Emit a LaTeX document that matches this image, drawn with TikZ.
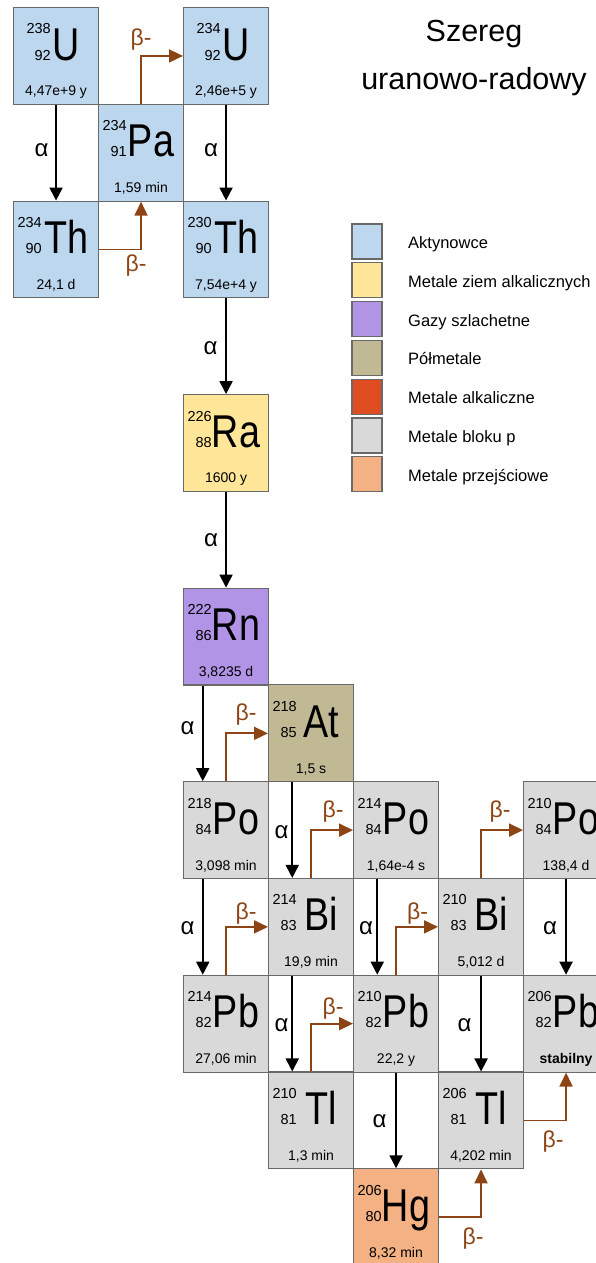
\documentclass[tikz,border=0pt]{standalone}
\usepackage{fontspec}
\setmainfont{Liberation Sans}
\newfontfamily\narrowfont[FakeStretch=0.82]{Liberation Sans}
\usetikzlibrary{arrows.meta,calc}
\definecolor{actin}{RGB}{189,215,238}
\definecolor{alkearth}{RGB}{255,230,153}
\definecolor{noble}{RGB}{178,148,230}
\definecolor{metalloid}{RGB}{192,185,147}
\definecolor{alkali}{RGB}{224,76,34}
\definecolor{pblock}{RGB}{217,217,217}
\definecolor{trans}{RGB}{244,177,131}
\definecolor{betac}{RGB}{140,68,20}
\definecolor{edgec}{RGB}{105,105,105}
\tikzset{
 cell/.style={draw=edgec, line width=1.1pt, minimum width=85pt, minimum height=96.8pt, inner sep=0pt, anchor=north west},
 symb/.style={inner sep=0pt, font=\narrowfont\fontsize{46}{46}\selectfont, anchor=base},
 nucnum/.style={inner sep=0pt, font=\fontsize{14.5}{14.5}\selectfont, anchor=base east},
 halfl/.style={inner sep=0pt, font=\fontsize{14}{14}\selectfont, anchor=base},
 alphaarr/.style={line width=1.8pt, -{Triangle[width=13pt,length=13pt]}},
 betaarr/.style={draw=betac, line width=1.8pt, -{Triangle[width=13pt,length=14pt]}},
 alphalab/.style={inner sep=0pt, font=\fontsize{24}{24}\selectfont},
 betalab/.style={inner sep=0pt, text=betac, font=\fontsize{23}{23}\selectfont},
 legbox/.style={draw=edgec, line width=1.1pt, minimum width=30pt, minimum height=35pt, inner sep=0pt},
 legtext/.style={inner sep=0pt, anchor=base west, font=\fontsize{16.5}{16.5}\selectfont},
 titletext/.style={inner sep=0pt, anchor=base, font=\fontsize{30.5}{30.5}\selectfont},
}
\newcommand\isotope[9]{%
 \node[cell, fill=#8] (#1) at ({13+85*#2},{7+96.77*#3}) {};
 \node[symb] (#1-sym) at ([xshift=10pt,yshift=-53pt]#1.north) {#6};
 \node[nucnum] (#1-A) at ([xshift=#9,yshift=-27pt]#1.north west) {#4};
 \node[nucnum] (#1-Z) at ([xshift=#9,yshift=-53pt]#1.north west) {#5};
 \node[halfl] (#1-T) at ([yshift=9pt]#1.south) {#7};
}
\begin{document}
\begin{tikzpicture}[x=1pt,y=-1pt]
\fill[white] (0,0) rectangle (595,1263);
\useasboundingbox (0,0) rectangle (595,1263);

% title
\node[titletext] (title1) at (474,41.5) {Szereg};
\node[titletext] (title2) at (474,89.3) {uranowo-radowy};

% cells
\isotope{U238}{0}{0}{238}{92}{U}{4,47e+9 y}{actin}{38pt}
\isotope{Pa234}{1}{1}{234}{91}{Pa}{1,59 min}{actin}{29pt}
\isotope{U234}{2}{0}{234}{92}{U}{2,46e+5 y}{actin}{38pt}
\isotope{Th234}{0}{2}{234}{90}{Th}{24,1 d}{actin}{29pt}
\isotope{Th230}{2}{2}{230}{90}{Th}{7,54e+4 y}{actin}{29pt}
\isotope{Ra226}{2}{4}{226}{88}{Ra}{1600 y}{alkearth}{29pt}
\isotope{Rn222}{2}{6}{222}{86}{Rn}{3,8235 d}{noble}{29pt}
\isotope{At218}{3}{7}{218}{85}{At}{1,5 s}{metalloid}{29pt}
\isotope{Po218}{2}{8}{218}{84}{Po}{3,098 min}{pblock}{29pt}
\isotope{Po214}{4}{8}{214}{84}{Po}{1,64e-4 s}{pblock}{29pt}
\isotope{Po210}{6}{8}{210}{84}{Po}{138,4 d}{pblock}{29pt}
\isotope{Bi214}{3}{9}{214}{83}{Bi}{19,9 min}{pblock}{29pt}
\isotope{Bi210}{5}{9}{210}{83}{Bi}{5,012 d}{pblock}{29pt}
\isotope{Pb214}{2}{10}{214}{82}{Pb}{27,06 min}{pblock}{29pt}
\isotope{Pb210}{4}{10}{210}{82}{Pb}{22,2 y}{pblock}{29pt}
\isotope{Pb206}{6}{10}{206}{82}{Pb}{\bfseries stabilny}{pblock}{29pt}
\isotope{Tl210}{3}{11}{210}{81}{Tl}{1,3 min}{pblock}{29pt}
\isotope{Tl206}{5}{11}{206}{81}{Tl}{4,202 min}{pblock}{29pt}
\isotope{Hg206}{4}{12}{206}{80}{Hg}{8,32 min}{trans}{29pt}

% alpha decays
\draw[alphaarr] (U238.south) -- (Th234.north);
\node[alphalab] (a1) at (41.5,150) {α};
\draw[alphaarr] (U234.south) -- (Th230.north);
\node[alphalab] (a2) at (211,150) {α};
\draw[alphaarr] (Th230.south) -- (Ra226.north);
\node[alphalab] (a3) at (210.5,348) {α};
\draw[alphaarr] (Ra226.south) -- (Rn222.north);
\node[alphalab] (a4) at (211,540) {α};
\draw[alphaarr] ([xshift=-23.3pt]Rn222.south) -- ([xshift=-23.3pt]Po218.north);
\node[alphalab] (a5) at (187.5,728) {α};
\draw[alphaarr] ([xshift=-18.8pt]At218.south) -- ([xshift=-18.8pt]Bi214.north);
\node[alphalab] (a6) at (281.5,832) {α};
\draw[alphaarr] ([xshift=-23.3pt]Po218.south) -- ([xshift=-23.3pt]Pb214.north);
\node[alphalab] (a7) at (187.5,928) {α};
\draw[alphaarr] ([xshift=-18.8pt]Po214.south) -- ([xshift=-18.8pt]Pb210.north);
\node[alphalab] (a8) at (366,928) {α};
\draw[alphaarr] (Po210.south) -- (Pb206.north);
\node[alphalab] (a9) at (550,928) {α};
\draw[alphaarr] ([xshift=-18.8pt]Bi214.south) -- ([xshift=-18.8pt]Tl210.north);
\node[alphalab] (a10) at (281.5,1025) {α};
\draw[alphaarr] (Bi210.south) -- (Tl206.north);
\node[alphalab] (a11) at (464.5,1025) {α};
\draw[alphaarr] (Pb210.south) -- (Hg206.north);
\node[alphalab] (a12) at (379.5,1121) {α};

% beta decays
\draw[betaarr] (Pa234.north) |- (U234.west);
\node[betalab] (b1) at (141,40) {β-};
\draw[betaarr] (Th234.east) -| (Pa234.south);
\node[betalab] (b2) at (136,266) {β-};
\draw[betaarr] (Po218.north) |- (At218.west);
\node[betalab] (b3) at (246,715) {β-};
\draw[betaarr] (Bi214.north) |- (Po214.west);
\node[betalab] (b4) at (333,811.5) {β-};
\draw[betaarr] (Bi210.north) |- (Po210.west);
\node[betalab] (b5) at (500,811.5) {β-};
\draw[betaarr] (Pb214.north) |- (Bi214.west);
\node[betalab] (b6) at (246,914) {β-};
\draw[betaarr] (Pb210.north) |- (Bi210.west);
\node[betalab] (b7) at (417.5,914) {β-};
\draw[betaarr] (Tl210.north) |- (Pb210.west);
\node[betalab] (b8) at (333,1008.5) {β-};
\draw[betaarr] (Hg206.east) -| (Tl206.south);
\node[betalab] (b9) at (473,1238.5) {β-};
\draw[betaarr] (Tl206.east) -| (Pb206.south);
\node[betalab] (b10) at (553,1141.5) {β-};

% legend
\node[legbox, fill=actin] (lg1) at (367,241.5) {};
\node[legtext] (lt1) at (408,248.5) {Aktynowce};
\node[legbox, fill=alkearth] (lg2) at (367,280.3) {};
\node[legtext] (lt2) at (408,287.3) {Metale ziem alkalicznych};
\node[legbox, fill=noble] (lg3) at (367,319.1) {};
\node[legtext] (lt3) at (408,326.1) {Gazy szlachetne};
\node[legbox, fill=metalloid] (lg4) at (367,357.9) {};
\node[legtext] (lt4) at (408,364.9) {Półmetale};
\node[legbox, fill=alkali] (lg5) at (367,396.7) {};
\node[legtext] (lt5) at (408,403.7) {Metale alkaliczne};
\node[legbox, fill=pblock] (lg6) at (367,435.5) {};
\node[legtext] (lt6) at (408,442.5) {Metale bloku p};
\node[legbox, fill=trans] (lg7) at (367,474.3) {};
\node[legtext] (lt7) at (408,481.3) {Metale przejściowe};
\end{tikzpicture}
\end{document}
